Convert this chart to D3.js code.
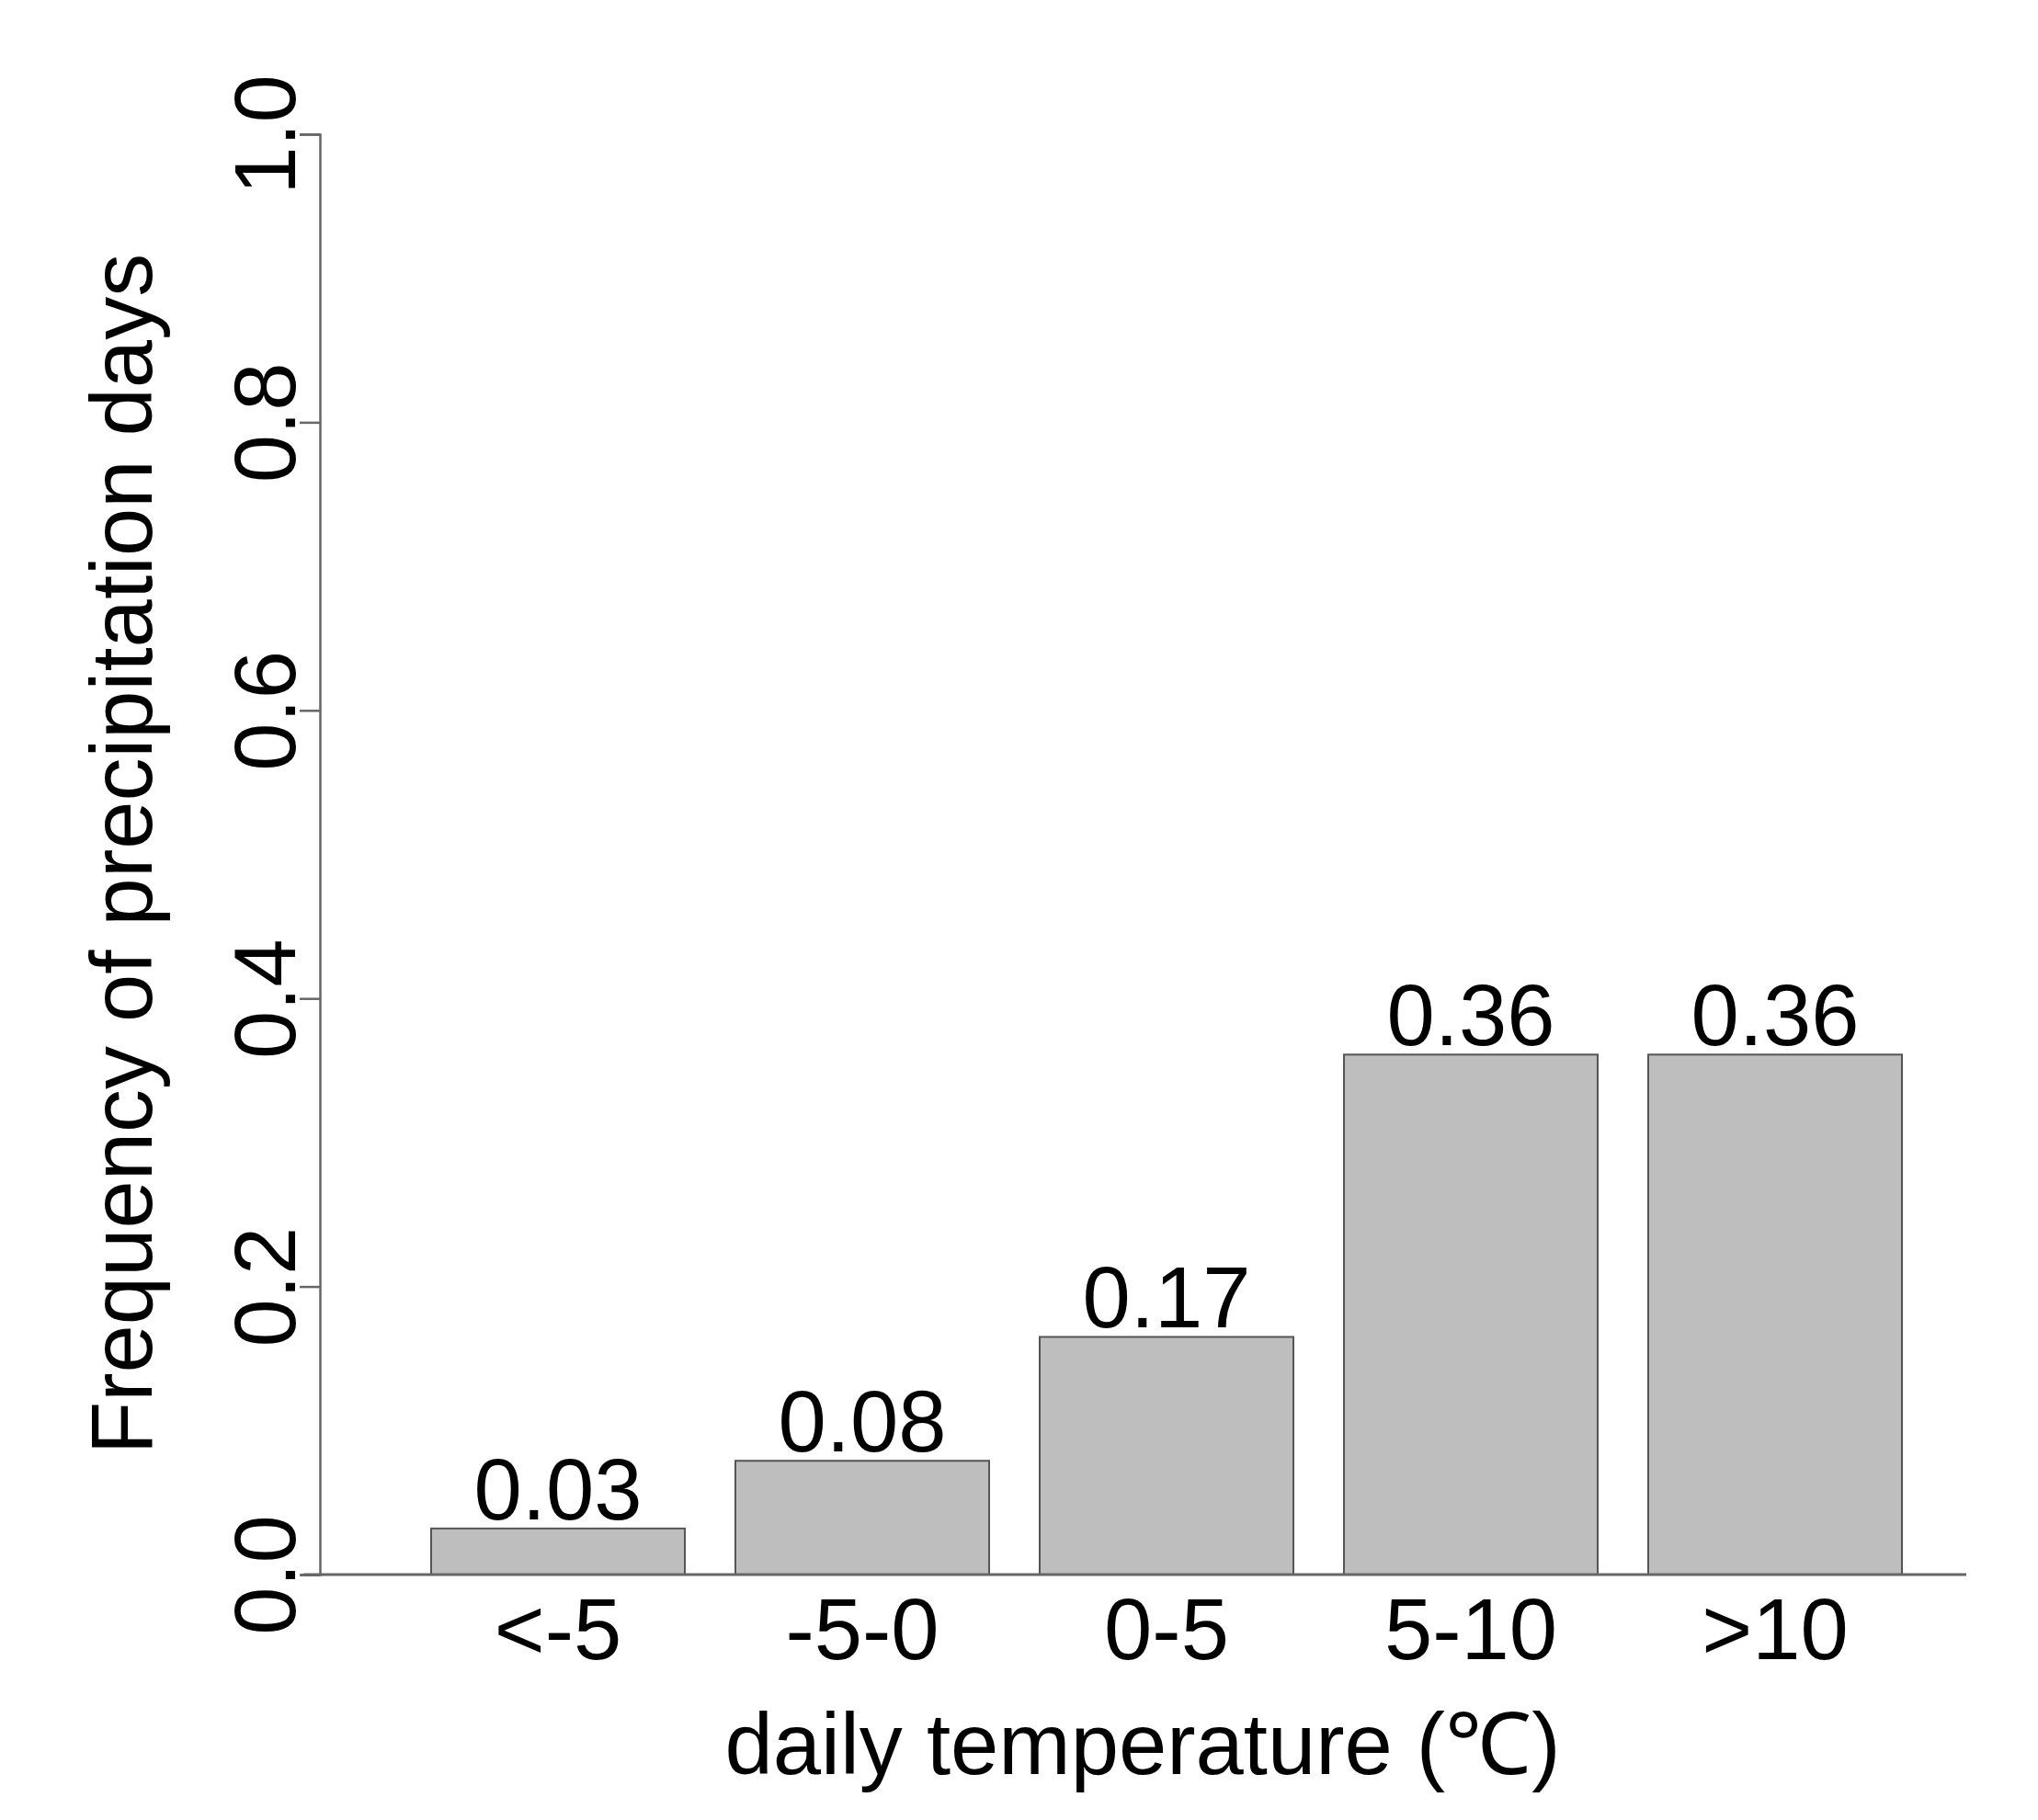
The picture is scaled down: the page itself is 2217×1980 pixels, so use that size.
<!DOCTYPE html>
<html><head><meta charset="utf-8">
<script src="https://cdn.jsdelivr.net/npm/d3@7"></script>
<style>body{margin:0;background:#fff}text{font-family:"Liberation Sans",Arial,sans-serif;fill:#000}</style>
</head><body><svg id="c" width="2217" height="1980"></svg>
<script>
const categories = ['<-5', '-5-0', '0-5', '5-10', '>10'];
const values = [0.032, 0.079, 0.165, 0.361, 0.361];
const valueLabels = ['0.03', '0.08', '0.17', '0.36', '0.36'];
const yTicks = [0, 0.2, 0.4, 0.6, 0.8, 1.0];

const svg = d3.select('#c');
const x = d3.scaleBand().domain(categories).range([469 - 55, 2072 + 0]).paddingInner(0.2).paddingOuter(0);
// align so first bar starts at 469
x.range([469 - 0, 469 + 5 * 331 - 55]).paddingInner(55 / 331);
const y = d3.scaleLinear().domain([0, 1]).range([1713, 146]);
const fs = 94;

// y axis
const ya = svg.append('g').attr('transform', 'translate(348,0)')
  .call(d3.axisLeft(y).tickValues(yTicks).tickFormat(d3.format('.1f')).tickSize(22).tickPadding(0));
ya.select('.domain').attr('stroke', '#666').attr('stroke-width', 2.5);
ya.selectAll('.tick line').attr('stroke', '#666').attr('stroke-width', 2.5);
ya.selectAll('.tick text').attr('font-size', fs).attr('text-anchor', 'middle')
  .attr('transform', 'translate(-60,0) rotate(-90)').attr('x', 0).attr('dy', '0.35em');

// bars
svg.selectAll('rect.bar').data(values).join('rect').attr('class', 'bar')
  .attr('x', (d, i) => x(categories[i])).attr('width', x.bandwidth())
  .attr('y', d => y(d)).attr('height', d => y(0) - y(d))
  .attr('fill', '#bebebe').attr('stroke', '#555').attr('stroke-width', 2);

// baseline
svg.append('line').attr('x1', 330).attr('x2', 2139).attr('y1', y(0)).attr('y2', y(0))
  .attr('stroke', '#666').attr('stroke-width', 3);

// value labels
svg.selectAll('text.val').data(values).join('text').attr('class', 'val')
  .attr('x', (d, i) => x(categories[i]) + x.bandwidth() / 2).attr('y', d => y(d) - 10)
  .attr('text-anchor', 'middle').attr('font-size', fs).text((d, i) => valueLabels[i]);

// category labels
svg.selectAll('text.cat').data(categories).join('text').attr('class', 'cat')
  .attr('x', d => x(d) + x.bandwidth() / 2).attr('y', 1805)
  .attr('text-anchor', 'middle').attr('font-size', fs).text(d => d);

// titles
svg.append('text').attr('x', 1243).attr('y', 1930).attr('text-anchor', 'middle')
  .attr('font-size', fs).text('daily temperature (℃)');
svg.append('text').attr('transform', 'translate(165,929) rotate(-90)').attr('text-anchor', 'middle')
  .attr('font-size', fs).text('Frequency of precipitation days');
</script></body></html>
